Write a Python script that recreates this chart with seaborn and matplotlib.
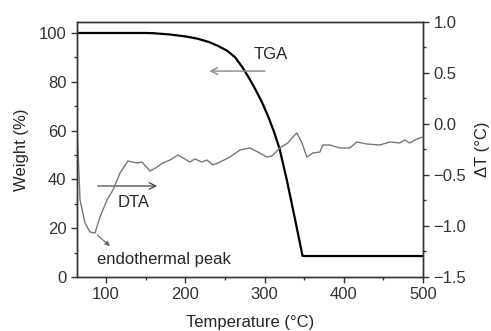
import numpy as np
import pandas as pd
import seaborn as sns
import matplotlib.pyplot as plt
from matplotlib.ticker import MultipleLocator

# TGA data (weight %)
tga_temp = [64, 150, 160, 180, 200, 215, 230, 242, 253, 263, 272, 280, 288, 297, 305, 312, 319,
            328, 338, 348, 500]
tga_weight = [100, 100, 99.9, 99.4, 98.6, 97.7, 96.3, 94.6, 92.7, 90.0, 86.0, 81.8, 77.2, 71.5,
              65.5, 59.5, 52.5, 40.0, 24.5, 8.6, 8.6]

# DTA data (delta T)
dta_temp = [64, 67.2, 73.5, 79.8, 86.1, 92.4, 101.3, 108.8, 117.7, 127.7, 139.1, 145.4, 155.5,
            164.3, 171.9, 180.7, 190.8, 199.6, 205.9, 212.2, 221.1, 227.4, 234.9, 243.8, 256.4,
            269.0, 281.6, 291.7, 303.0, 309.3, 319.4, 329.5, 335.8, 340.9, 347.2, 353.5, 361.0,
            369.9, 373.6, 382.5, 395.1, 407.7, 416.5, 429.1, 445.5, 458.1, 470.7, 477.0, 483.4,
            492.2, 499.7]
dta_dt = [-0.127, -0.745, -0.971, -1.059, -1.069, -0.912, -0.745, -0.647, -0.480, -0.363, -0.382,
          -0.373, -0.461, -0.422, -0.382, -0.353, -0.304, -0.343, -0.373, -0.343, -0.373, -0.353,
          -0.402, -0.373, -0.324, -0.255, -0.235, -0.275, -0.324, -0.314, -0.235, -0.186, -0.127,
          -0.088, -0.186, -0.324, -0.284, -0.275, -0.206, -0.206, -0.235, -0.235, -0.176, -0.196,
          -0.206, -0.176, -0.186, -0.157, -0.186, -0.147, -0.127]

sns.set_style('ticks')
plt.rcParams['font.family'] = ['Liberation Sans', 'DejaVu Sans']
plt.rcParams['font.size'] = 12
for k in ['axes.edgecolor', 'xtick.color', 'ytick.color']:
    plt.rcParams[k] = '#333333'
plt.rcParams['xtick.direction'] = 'out'
plt.rcParams['ytick.direction'] = 'out'

df_tga = pd.DataFrame({'temp': tga_temp, 'weight': tga_weight})
df_dta = pd.DataFrame({'temp': dta_temp, 'dt': dta_dt})

fig = plt.figure(figsize=(4.91, 3.31), dpi=100)
ax = fig.add_axes([77 / 491, 54 / 331, 346 / 491, 255 / 331])
ax2 = ax.twinx()

sns.lineplot(data=df_tga, x='temp', y='weight', ax=ax, color='black', lw=1.6)
sns.lineplot(data=df_dta, x='temp', y='dt', ax=ax2, color='#777777', lw=1.0)

ax.set_xlim(63.4, 500)
ax.set_ylim(0, 104.5)
ax2.set_ylim(-1.5, 1.0)

ax.xaxis.set_major_locator(MultipleLocator(100))
ax.xaxis.set_minor_locator(MultipleLocator(50))
ax.yaxis.set_major_locator(MultipleLocator(20))
ax.yaxis.set_minor_locator(MultipleLocator(10))
ax2.yaxis.set_major_locator(MultipleLocator(0.5))
ax2.yaxis.set_minor_locator(MultipleLocator(0.25))
for a in (ax, ax2):
    a.tick_params(which='major', length=4, width=1, labelsize=12, pad=3.5)
    a.tick_params(which='minor', length=2.5, width=1)
    for s in a.spines.values():
        s.set_visible(True)
        s.set_linewidth(1.0)

ax.set_xlabel('Temperature (°C)', fontsize=12, labelpad=9)
ax.set_ylabel('Weight (%)', fontsize=12, labelpad=7)
ax2.set_ylabel('ΔT (°C)', fontsize=12, labelpad=6)

# annotations
ax.annotate('', xy=(227, 84.4), xytext=(304, 84.4),
            arrowprops=dict(arrowstyle='->', color='#888888', lw=1.0))
ax.text(308, 91, 'TGA', ha='center', va='center', fontsize=12)
ax.annotate('', xy=(168, 37.3), xytext=(86, 37.3),
            arrowprops=dict(arrowstyle='->', color='#444444', lw=0.9))
ax.text(135, 30.5, 'DTA', ha='center', va='center', fontsize=12)
ax2.annotate('', xy=(107.6, -1.216), xytext=(86.5, -1.07),
             arrowprops=dict(arrowstyle='-|>', color='#666666', lw=0.8, mutation_scale=7))
ax2.text(88.6, -1.333, 'endothermal peak', ha='left', va='center', fontsize=12)

fig.savefig('out.png', dpi=100)
